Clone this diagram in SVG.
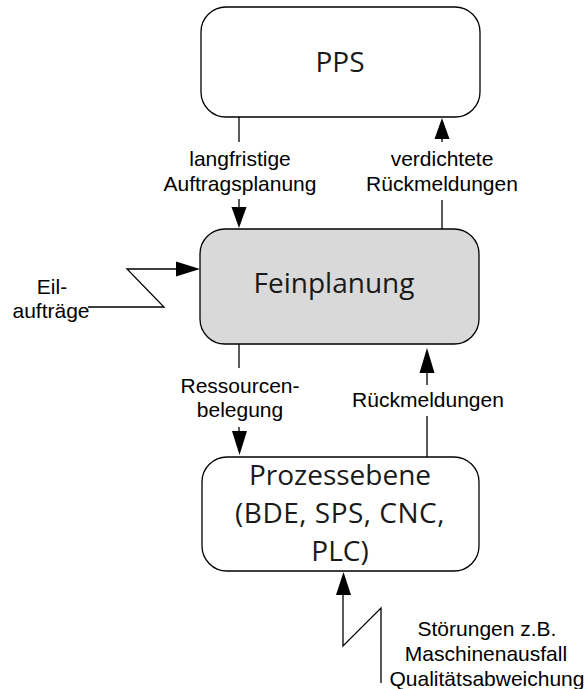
<svg xmlns="http://www.w3.org/2000/svg" width="588" height="689" viewBox="0 0 588 689">
<style>
.box{fill:#fff;stroke:#000;stroke-width:1.3}
.grey{fill:#d9d9d9}
.bt{font-family:"Open Sans","Noto Sans",sans-serif;font-size:28px;fill:#1a1a1a;text-anchor:middle}
.lb{font-family:"Liberation Sans",Arial,sans-serif;font-size:21px;fill:#000;text-anchor:middle}
.ln{fill:none;stroke:#000;stroke-width:1.3}
.ah{fill:#000}
</style>
<rect width="588" height="689" fill="#fff"/>
<g id="pps">
<rect class="box" x="201" y="7" width="279" height="110" rx="25"/>
<text class="bt" x="340" y="72">PPS</text>
</g>
<g id="feinplanung">
<rect class="box grey" x="200" y="229" width="279" height="115" rx="25"/>
<text class="bt" x="334" y="293">Feinplanung</text>
</g>
<g id="prozessebene">
<rect class="box" x="202" y="457" width="277" height="114" rx="25"/>
<text class="bt" x="340" y="485">Prozessebene</text>
<text class="bt" x="340" y="523" letter-spacing="0.5">(BDE, SPS, CNC,</text>
<text class="bt" x="340" y="561">PLC)</text>
</g>
<g id="connectors">
<!-- PPS -> Feinplanung -->
<line class="ln" x1="239" y1="117" x2="239" y2="142"/>
<line class="ln" x1="239" y1="199" x2="239" y2="210"/>
<polygon class="ah" points="231.5,207 246.5,207 239,228"/>
<text class="lb" x="240" y="166">langfristige</text>
<text class="lb" x="240" y="191">Auftragsplanung</text>
<!-- Feinplanung -> PPS -->
<line class="ln" x1="442" y1="229" x2="442" y2="200"/>
<line class="ln" x1="442" y1="142" x2="442" y2="136"/>
<polygon class="ah" points="434.5,139 449.5,139 442,118"/>
<text class="lb" x="442" y="166">verdichtete</text>
<text class="lb" x="442" y="191">Rückmeldungen</text>
<!-- Eilaufträge -->
<polyline class="ln" points="88,307 164,307 127,269 180,269"/>
<polygon class="ah" points="176,261.5 176,276.5 200,269"/>
<text class="lb" x="52" y="294">Eil-</text>
<text class="lb" x="51" y="318">aufträge</text>
<!-- Feinplanung -> Prozessebene -->
<line class="ln" x1="239" y1="344" x2="239" y2="368"/>
<line class="ln" x1="239" y1="427" x2="239" y2="434"/>
<polygon class="ah" points="232,431 247,431 239.5,455"/>
<text class="lb" x="240" y="393">Ressourcen-</text>
<text class="lb" x="240" y="417">belegung</text>
<!-- Prozessebene -> Feinplanung -->
<line class="ln" x1="427" y1="457" x2="427" y2="416"/>
<line class="ln" x1="427" y1="385" x2="427" y2="370"/>
<polygon class="ah" points="419.5,373 434.5,373 427,348"/>
<text class="lb" x="428" y="407">Rückmeldungen</text>
<!-- Störungen -->
<polyline class="ln" points="381,683 381,608 343,646 343,592"/>
<polygon class="ah" points="336,595 351,595 343.5,572"/>
<text class="lb" x="487" y="636">Störungen z.B.</text>
<text class="lb" x="486" y="661">Maschinenausfall</text>
<text class="lb" x="487" y="686">Qualitätsabweichung</text>
</g>
</svg>
